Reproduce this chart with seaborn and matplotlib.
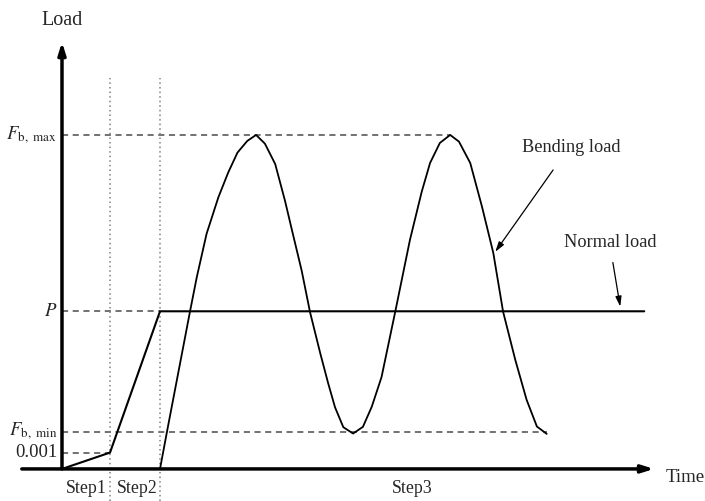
import matplotlib
matplotlib.use("Agg")
import matplotlib.pyplot as plt
import seaborn as sns

# time axis units: step ends at ~1 and 2; load in arbitrary units (Fb,max = 10)
bend_t = [2.00, 2.14, 2.61, 2.75, 2.95, 3.19, 3.39, 3.58, 3.78, 3.96, 4.14, 4.35,
          4.55, 4.71, 4.89, 5.06, 5.27, 5.43, 5.57, 5.74, 5.94, 6.14, 6.32, 6.52,
          6.80, 7.10, 7.34, 7.51, 7.71, 7.92, 8.10, 8.33, 8.57, 8.80, 9.00, 9.25,
          9.48, 9.69, 9.89]
bend_load = [0.00, 1.10, 4.70, 5.74, 7.04, 8.13, 8.87, 9.47, 9.82, 10.0, 9.74, 9.13,
             8.03, 7.04, 5.94, 4.70, 3.46, 2.57, 1.85, 1.25, 1.06, 1.26, 1.86, 2.75,
             4.71, 6.86, 8.30, 9.16, 9.76, 10.0, 9.80, 9.16, 7.85, 6.47, 4.71, 3.26,
             2.07, 1.27, 1.05]

normal_t = [0.0, 0.98, 2.0, 11.88]
normal_load = [0.0, 0.49, 4.72, 4.72]

level_names = [r"$F_{\mathrm{b,\ max}}$", r"$P$", r"$F_{\mathrm{b,\ min}}$", "0.001"]
level_values = [10.0, 4.72, 1.11, 0.49]
level_ends = [7.92, 2.0, 9.89, 0.98]

step_names = ["Step1", "Step2", "Step3"]
step_centers = [0.49, 1.53, 7.14]
step_bounds = [0.98, 2.0]

sns.set_style("white")
plt.rcParams["font.family"] = ["Liberation Serif", "DejaVu Serif"]
plt.rcParams["mathtext.fontset"] = "stix"

fig = plt.figure(figsize=(7.05, 5.01), dpi=100)
ax = fig.add_axes([0, 0, 1, 1])
ax.set_xlim(-1.265, 13.12)
ax.set_ylim(-0.96, 14.04)
ax.axis("off")

# guide lines
for v, end in zip(level_values, level_ends):
    ax.plot([0, end], [v, v], color="#4a4a4a", lw=1.1, ls=(0, (4, 3)))
for b in step_bounds:
    ax.plot([b, b], [-0.96, 11.7], color="#808080", lw=1.1, ls=(0, (1, 2)))

# axes with arrows
ax.annotate("", xy=(12.08, 0), xytext=(-0.82, 0),
            arrowprops=dict(arrowstyle="-|>,head_length=0.7,head_width=0.22",
                            color="black", lw=2.5, shrinkA=0, shrinkB=0))
ax.annotate("", xy=(0, 12.78), xytext=(0, 0),
            arrowprops=dict(arrowstyle="-|>,head_length=0.7,head_width=0.22",
                            color="black", lw=2.5, shrinkA=0, shrinkB=0))

sns.lineplot(x=bend_t, y=bend_load, color="black", lw=1.3, ax=ax,
             sort=False, estimator=None)
sns.lineplot(x=normal_t, y=normal_load, color="black", lw=1.5, ax=ax,
             sort=False, estimator=None)

fs = 12.8
ax.text(0, 13.42, "Load", ha="center", va="center", fontsize=14.5)
ax.text(12.31, -0.27, "Time", ha="left", va="center", fontsize=13.5)
for name, v in zip(level_names, level_values):
    ax.text(-0.10, v, name, ha="right", va="center", fontsize=13.5)
for name, c in zip(step_names, step_centers):
    ax.text(c, -0.6, name, ha="center", va="center", fontsize=fs)

ax.text(10.39, 9.61, "Bending load", ha="center", va="center", fontsize=13.2)
ax.annotate("", xy=(8.84, 6.50), xytext=(10.02, 8.95),
            arrowprops=dict(arrowstyle="-|>,head_length=0.6,head_width=0.18",
                            color="black", lw=0.9, shrinkA=0, shrinkB=0))
ax.text(11.18, 6.77, "Normal load", ha="center", va="center", fontsize=13.2)
ax.annotate("", xy=(11.39, 4.86), xytext=(11.24, 6.18),
            arrowprops=dict(arrowstyle="-|>,head_length=0.6,head_width=0.18",
                            color="black", lw=0.9, shrinkA=0, shrinkB=0))

fig.savefig("out.png", dpi=100)
